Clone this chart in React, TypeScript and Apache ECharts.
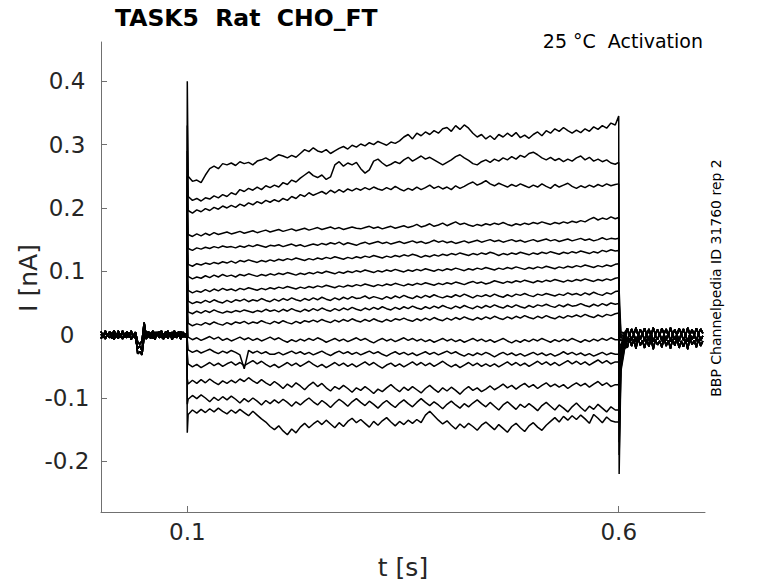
import React, { useEffect, useRef } from "react";
import * as echarts from "echarts";

// Units: currents in pA (converted to nA when building series), times in s.
const X_TICKS = [0.1, 0.6];
const Y_TICKS = [-0.2, -0.1, 0, 0.1, 0.2, 0.3, 0.4];

// Sampling grids
const PRE_DT = 0.0025; // pre-step baseline, from 0 s
const STEP_T0 = 0.101; // step segment start
const STEP_DT = 0.005;
const POST_T0 = 0.61;
const POST_DT = 0.0025;
const HOLD = 0; // holding current just before the step (pA)

// Pre-step baselines (3 recordings overlap), with the small artefact near 0.045 s
const PRE_A = [5,-3,6,-2,4,-4,7,-1,3,-5, 6,-2,5,-4,3,-3,4,-12,-15,-10, 19,-2,5,-3,6,-4,4,-2,6,-3, 5,-4,3,-2,6,-3,5,-4,4,-1];
const PRE_B = [-6,2,-7,1,-5,3,-8,0,-6,2, -7,1,-5,3,-8,1,-6,-22,-18,-25, 9,-7,2,-6,1,-8,3,-5,0,-7, 2,-6,1,-8,3,-5,0,-7,2,-4];
const PRE_C = [1,-5,4,-3,5,-6,2,-4,6,-2, 3,-5,4,-3,6,-4,2,-30,-27,-32, -3,5,-4,3,-6,4,-2,5,-5,2, -4,6,-3,4,-5,3,-2,5,-4,1];

// Post-step baselines
const POST_A = [10,-1,9,0,11,-2,8,1,10,-1, 9,-2,11,0,8,-1,10,1,9,-2, 11,0,8,-1,10,1,9,-2,11,0, 8,-1,10,1,9,2];
const POST_B = [-10,2,-9,1,-11,0,-8,3,-10,1, -9,2,-11,-1,-8,2,-10,0,-9,3, -11,1,-8,0,-10,2,-9,-1,-11,1, -8,0,-10,2,-9,-2];
const POST_C = [-20,-6,-18,-8,-22,-5,-17,-9,-21,-7, -19,-6,-23,-8,-16,-10,-20,-5,-18,-9, -22,-7,-17,-6,-21,-10,-19,-8,-23,-5, -16,-9,-20,-7,-18,-10];

// Capacitive peaks at step onset (t = 0.1 s) and at step end (t = 0.6 s)
const START_PEAK = [400,330,290,250,220,190,160,130,110,85,60,30,0,-30,-70,-110,-155];
const END_PEAK = [345,272,238,185,152,133,112,90,69,49,34,-8,-31,-43,-79,-119,-138];
// Tail currents after the step
const TAIL_PEAK = [-220,-190,-170,-140,-120,-100,-85,-70,-55,-45,-30,-20,-5,10,30,50,70]; // 0.6005 s
const TAIL_A = [-58,-54,-50,-45,-40,-35,-30,-28,-25,-22,-18,-15,-10,-6,-3,0,4]; // 0.6025 s
const TAIL_B = [-30,-26,-22,-19,-16,-14,-12,-10,-9,-8,-6,-5,-4,-2,0,2,3]; // 0.606 s

// Currents during the voltage step (0.101 .. 0.596 s, every 5 ms)
const TRACE_01 = [250,242,244,240,252,262,266,262,270,268, 271,267,273,270,272,268,274,276,279,275, 280,284,282,279,283,280,286,292,289,295, 290,288,292,286,290,294,297,293,299,296, 301,298,303,300,305,302,299,304,302,306, 312,316,309,318,314,320,316,322,318,325, 327,321,330,324,331,326,318,312,316,309, 314,308,316,312,318,313,319,311,315,310, 316,320,314,322,318,325,321,327,322,318, 323,319,325,321,328,324,330,326,334,331];
const TRACE_02 = [218,212,215,211,216,214,219,216,221,218, 224,221,229,226,231,228,233,229,235,232, 236,233,240,237,244,241,247,252,257,251, 248,252,245,249,268,273,266,271,268,272, 262,255,260,274,277,271,266,269,273,270, 276,280,274,278,282,277,280,276,272,268, 272,276,281,284,279,275,270,268,273,276, 272,277,274,279,276,281,277,283,280,286, 288,284,279,276,280,275,278,273,277,274, 279,282,276,280,274,277,273,276,271,269];
const TRACE_03 = [196,192,197,194,199,196,201,198,203,200, 204,201,206,203,208,205,210,207,212,209, 213,210,215,212,218,215,221,218,224,220, 223,226,222,228,224,229,225,230,227,231, 228,232,229,233,230,228,232,229,234,230, 227,231,228,233,229,232,236,231,234,230, 233,229,235,231,234,238,241,236,239,243, 238,235,239,236,233,237,234,238,235,232, 236,233,238,234,231,237,233,236,239,234, 231,235,232,236,233,237,234,238,235,237];
const TRACE_04 = [158,155,159,156,160,157,161,158,160,162, 159,161,163,160,162,164,161,163,165,162, 164,166,163,165,167,164,166,168,165,167, 169,166,168,170,167,169,166,168,170,168, 167,169,171,168,170,167,169,171,168,170, 172,169,171,174,170,172,175,171,173,176, 172,175,178,174,176,173,171,174,172,175, 173,176,174,177,174,172,175,173,176,174, 177,175,178,176,174,177,175,178,176,179, 177,180,178,182,185,181,184,182,186,183];
const TRACE_05 = [136,133,137,135,138,136,139,137,140,138, 139,137,140,138,141,139,142,140,138,141, 140,142,139,141,143,140,142,139,141,143, 141,144,142,145,143,146,142,145,143,141, 144,146,143,145,147,144,146,143,145,147, 144,146,148,145,147,144,146,149,146,148, 145,147,144,146,148,145,147,149,146,148, 150,147,149,146,148,150,147,149,146,148, 150,147,149,151,148,150,147,149,151,148, 150,152,149,151,148,150,153,150,152,151];
const TRACE_06 = [111,108,112,110,113,111,114,112,115,113, 116,113,117,115,118,116,114,117,115,118, 116,119,117,120,118,121,119,117,120,118, 121,119,122,120,123,121,119,122,120,123, 121,124,122,125,123,121,124,122,125,123, 126,124,127,125,122,125,123,126,124,127, 125,128,126,129,127,125,128,126,129,127, 130,128,125,128,126,129,127,130,128,126, 129,127,130,128,131,129,127,130,128,131, 129,132,130,128,131,129,133,131,134,132];
const TRACE_07 = [92,88,91,89,93,90,94,91,95,92, 94,91,95,93,96,94,92,95,93,96, 94,97,95,98,96,94,97,95,98,96, 99,97,100,98,96,99,97,100,98,101, 99,102,100,98,101,99,102,100,103,101, 99,102,100,103,101,104,102,100,103,101, 104,102,105,103,101,104,102,105,103,106, 104,102,105,103,106,104,107,105,103,106, 104,107,105,108,106,104,107,105,108,106, 109,107,110,108,106,109,107,110,108,111];
const TRACE_08 = [70,66,69,67,71,68,72,69,73,70, 72,69,73,71,74,72,70,73,71,74, 72,75,73,76,74,72,75,73,76,74, 77,75,78,76,74,77,75,78,76,79, 77,80,78,76,79,77,80,78,81,79, 77,80,78,81,79,82,80,78,81,79, 82,80,83,81,79,82,84,81,83,80, 82,85,83,81,84,82,85,83,86,84, 82,85,83,86,84,87,85,83,86,84, 87,85,88,86,84,87,85,88,86,89];
const TRACE_09 = [53,49,52,50,54,51,55,52,50,54, 51,55,53,56,52,55,53,57,54,52, 56,53,57,54,58,55,53,57,54,58, 55,59,56,54,58,55,59,56,60,57, 58,61,57,60,58,56,60,57,61,58, 62,59,57,61,58,62,59,63,60,58, 61,59,63,60,64,61,58,62,60,63, 60,64,61,59,63,60,64,62,65,62, 60,64,62,65,63,61,64,62,66,63, 65,62,66,63,67,64,62,66,64,68];
const TRACE_10 = [36,33,37,34,38,35,39,36,34,37, 35,38,36,39,37,35,38,36,40,37, 39,36,40,37,41,38,36,40,37,41, 38,42,39,37,41,38,42,39,43,40, 38,42,39,43,40,44,41,39,43,40, 44,41,45,42,40,44,41,45,42,46, 43,41,45,42,46,43,41,45,42,46, 43,47,44,42,46,43,47,44,42,46, 43,47,45,48,45,43,47,44,48,45, 46,49,46,44,48,45,49,46,50,48];
const TRACE_11 = [18,14,17,15,19,16,20,17,15,19, 16,20,18,21,17,20,18,22,19,17, 21,18,22,19,17,21,18,22,20,23, 20,24,21,19,23,20,24,21,25,22, 20,24,21,25,22,20,24,21,25,23, 26,23,21,25,22,26,23,27,24,22, 26,23,27,24,28,25,23,27,24,28, 25,29,26,24,28,25,29,26,30,27, 25,29,26,30,27,25,29,26,30,28, 31,28,32,29,27,31,28,32,30,33];
const TRACE_12 = [-4,-8,-5,-9,-6,-3,-7,-4,-9,-6, -10,-7,-4,-8,-5,-9,-6,-10,-7,-4, -8,-5,-9,-12,-8,-11,-7,-10,-6,-9, -5,-8,-12,-9,-6,-10,-7,-11,-8,-5, -9,-6,-10,-13,-9,-6,-10,-7,-11,-8, -5,-9,-6,-10,-7,-11,-8,-12,-9,-6, -10,-7,-11,-8,-12,-9,-6,-10,-7,-11, -8,-12,-9,-6,-10,-13,-9,-12,-8,-11, -7,-10,-6,-9,-12,-8,-11,-7,-10,-6, -9,-12,-8,-11,-7,-10,-6,-9,-5,-8];
const TRACE_13 = [-24,-28,-25,-29,-26,-23,-27,-30,-26,-29, -25,-28,-32,-54,-25,-29,-26,-30,-27,-31, -31,-28,-32,-29,-26,-30,-27,-31,-28,-32, -29,-26,-30,-33,-29,-26,-30,-27,-31,-28, -32,-29,-26,-30,-27,-31,-34,-30,-27,-31, -28,-32,-29,-33,-30,-27,-31,-28,-32,-29, -26,-30,-27,-31,-34,-30,-33,-29,-32,-28, -31,-35,-31,-28,-32,-29,-33,-30,-34,-31, -28,-32,-29,-33,-30,-34,-31,-27,-31,-28, -32,-29,-33,-30,-34,-31,-28,-32,-29,-31];
const TRACE_14 = [-46,-51,-47,-52,-48,-44,-49,-45,-50,-46, -43,-48,-44,-49,-45,-41,-46,-42,-47,-51, -47,-52,-48,-44,-49,-45,-50,-46,-42,-47, -51,-47,-52,-48,-44,-49,-45,-50,-46,-51, -47,-43,-48,-44,-49,-53,-48,-45,-50,-46, -51,-47,-43,-48,-44,-49,-45,-50,-46,-42, -47,-51,-47,-52,-48,-44,-49,-45,-50,-46, -50,-46,-51,-47,-43,-48,-44,-49,-45,-50, -46,-42,-47,-43,-48,-44,-49,-45,-41,-46, -42,-47,-43,-48,-44,-40,-45,-41,-46,-43];
const TRACE_15 = [-78,-72,-77,-71,-76,-70,-75,-79,-73,-77, -72,-76,-70,-74,-68,-73,-77,-71,-76,-80, -74,-79,-85,-78,-83,-76,-81,-87,-80,-75, -82,-77,-84,-89,-82,-86,-80,-85,-91,-84, -88,-82,-87,-93,-86,-90,-84,-79,-85,-90, -83,-88,-82,-87,-92,-85,-80,-86,-91,-84, -89,-83,-88,-94,-87,-82,-88,-84,-90,-86, -81,-87,-83,-78,-84,-80,-86,-81,-77,-83, -79,-85,-80,-76,-82,-78,-83,-79,-85,-80, -76,-81,-77,-83,-78,-74,-80,-76,-82,-79];
const TRACE_16 = [-102,-96,-101,-95,-100,-106,-99,-104,-98,-103, -97,-102,-108,-101,-106,-100,-105,-111,-104,-109, -103,-108,-102,-107,-113,-106,-111,-105,-100,-106, -111,-104,-109,-115,-108,-102,-107,-113,-106,-101, -107,-112,-105,-110,-116,-109,-104,-110,-115,-108, -103,-109,-114,-107,-101,-107,-112,-106,-111,-117, -110,-105,-111,-116,-109,-114,-108,-103,-109,-114, -107,-113,-119,-111,-106,-112,-118,-110,-115,-109, -114,-120,-112,-107,-113,-119,-111,-116,-122,-114, -108,-115,-121,-113,-118,-110,-116,-122,-114,-119];
const TRACE_17 = [-126,-119,-124,-118,-123,-117,-122,-116,-121,-125, -119,-124,-118,-123,-128,-121,-127,-133,-138,-145, -150,-144,-152,-158,-149,-155,-146,-140,-147,-141, -136,-142,-135,-141,-147,-139,-145,-137,-132,-139, -134,-140,-146,-137,-143,-136,-131,-138,-144,-137, -142,-135,-140,-134,-139,-127,-121,-128,-135,-141, -136,-143,-149,-141,-147,-140,-145,-151,-143,-138, -144,-150,-142,-148,-154,-145,-140,-147,-153,-144, -139,-146,-151,-143,-137,-131,-138,-129,-135,-128, -134,-127,-133,-140,-126,-132,-139,-130,-136,-138];

const TRACES = [TRACE_01, TRACE_02, TRACE_03, TRACE_04, TRACE_05, TRACE_06, TRACE_07, TRACE_08, TRACE_09, TRACE_10, TRACE_11, TRACE_12, TRACE_13, TRACE_14, TRACE_15, TRACE_16, TRACE_17];
const PRE = [PRE_A, PRE_B, PRE_C];
const POST = [POST_A, POST_B, POST_C];

const FONT = "DejaVu Sans";

function buildTrace(i: number): [number, number][] {
  const pts: [number, number][] = [];
  const pre = PRE[i % 3];
  pre.forEach((v, k) => pts.push([k * PRE_DT, v / 1000]));
  pts.push([0.0995, HOLD / 1000]);
  pts.push([0.1, START_PEAK[i] / 1000]);
  TRACES[i].forEach((v, k) => pts.push([STEP_T0 + k * STEP_DT, v / 1000]));
  pts.push([0.6, END_PEAK[i] / 1000]);
  pts.push([0.6005, TAIL_PEAK[i] / 1000]);
  pts.push([0.6025, TAIL_A[i] / 1000]);
  pts.push([0.606, TAIL_B[i] / 1000]);
  const post = POST[i % 3];
  post.forEach((v, k) => pts.push([POST_T0 + k * POST_DT, v / 1000]));
  return pts;
}

function fmt(v: number): string {
  const r = Math.round(v * 10) / 10;
  return r === 0 ? "0" : String(r);
}

export default function App() {
  const ref = useRef<HTMLDivElement>(null);
  useEffect(() => {
    if (!ref.current) return;
    const chart = echarts.init(ref.current, null, { renderer: "svg" });
    const axisColor = "#707070";
    const labelColor = "#262626";
    const series = TRACES.map((_, i) => ({
      type: "line",
      data: buildTrace(i),
      showSymbol: false,
      symbol: "none",
      silent: true,
      lineStyle: { color: "#000000", width: 1.5 },
      itemStyle: { color: "#000000" },
      emphasis: { disabled: true },
      z: 2,
    }));
    chart.setOption({
      animation: false,
      backgroundColor: "#ffffff",
      grid: { left: 101, right: 73, top: 42, bottom: 71, containLabel: false, outerBoundsMode: "none" },
      xAxis: {
        type: "value",
        min: 0,
        max: 0.7,
        axisLine: { show: true, onZero: false, lineStyle: { color: axisColor, width: 1 } },
        axisTick: { show: true, inside: true, length: 6, customValues: X_TICKS, lineStyle: { color: axisColor } },
        axisLabel: {
          customValues: X_TICKS,
          formatter: (v: number) => fmt(v),
          fontSize: 23,
          fontFamily: FONT,
          color: labelColor,
          margin: 8,
        },
        splitLine: { show: false },
      },
      yAxis: {
        type: "value",
        min: -0.28,
        max: 0.462,
        axisLine: { show: true, onZero: false, lineStyle: { color: axisColor, width: 1 } },
        axisTick: { show: true, inside: true, length: 6, customValues: Y_TICKS, lineStyle: { color: axisColor } },
        axisLabel: {
          customValues: Y_TICKS,
          formatter: (v: number) => fmt(v),
          fontSize: 23,
          fontFamily: FONT,
          color: labelColor,
          margin: 34,
          align: "center",
        },
        splitLine: { show: false },
      },
      graphic: [
        {
          type: "text",
          x: 115,
          y: 18,
          style: { text: "TASK5  Rat  CHO_FT", font: `bold 23.5px "${FONT}"`, fill: "#000000", textAlign: "left", textVerticalAlign: "middle" },
        },
        {
          type: "text",
          x: 703,
          y: 41,
          style: { text: "25 °C  Activation", font: `19px "${FONT}"`, fill: "#000000", textAlign: "right", textVerticalAlign: "middle" },
        },
        {
          type: "text",
          x: 716,
          y: 278,
          rotation: Math.PI / 2,
          style: { text: "BBP Channelpedia ID 31760 rep 2", font: `14px "${FONT}"`, fill: "#000000", textAlign: "center", textVerticalAlign: "middle" },
        },
        {
          type: "text",
          x: 28,
          y: 278,
          rotation: Math.PI / 2,
          style: { text: "I [nA]", font: `25px "${FONT}"`, fill: labelColor, textAlign: "center", textVerticalAlign: "middle" },
        },
        {
          type: "text",
          x: 403,
          y: 567,
          style: { text: "t [s]", font: `25px "${FONT}"`, fill: labelColor, textAlign: "center", textVerticalAlign: "middle" },
        },
      ],
      series,
    });
    return () => chart.dispose();
  }, []);
  return <div ref={ref} style={{ position: "fixed", left: 0, top: 0, width: 778, height: 583 }} />;
}
